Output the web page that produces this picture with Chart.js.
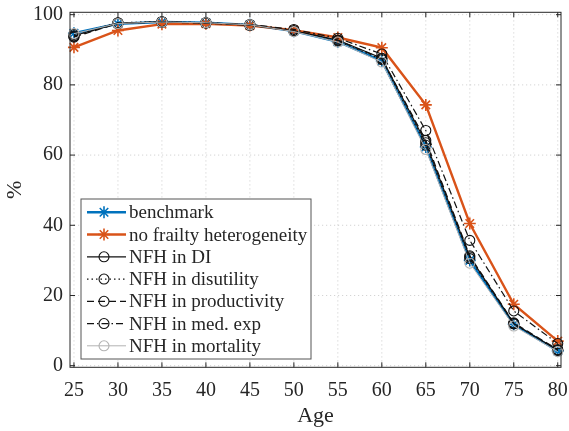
<!DOCTYPE html>
<html>
<head>
<meta charset="utf-8">
<script src="https://cdn.jsdelivr.net/npm/chart.js@4.4.1/dist/chart.umd.min.js"></script>
<style>
  html, body { margin: 0; padding: 0; background: #fff; }
  #wrap { width: 569px; height: 431px; position: relative; }
</style>
</head>
<body>
<div id="wrap"><canvas id="chart"></canvas></div>
<script>
// Share (%) by age — benchmark vs. no-frailty-heterogeneity (NFH) variants.
// Values.

const ages = [25, 30, 35, 40, 45, 50, 55, 60, 65, 70, 75, 80];
const xTicks = [25, 30, 35, 40, 45, 50, 55, 60, 65, 70, 75, 80];
const yTicks = [0, 20, 40, 60, 80, 100];

const benchmark    = [94.7, 97.4, 97.9, 97.7, 97.1, 95.3, 92.3, 86.8, 62.3, 30.0, 11.8, 4.2];
const noFrailty    = [90.7, 95.5, 97.3, 97.4, 96.9, 95.6, 93.5, 90.6, 74.3, 40.5, 17.5, 7.0];
const nfhDI        = [94.0, 97.6, 97.9, 97.7, 97.0, 95.4, 92.8, 87.6, 63.5, 31.0, 12.0, 4.4];
const nfhDisutil   = [94.4, 97.7, 98.0, 97.7, 97.1, 95.3, 92.5, 87.2, 62.8, 30.5, 11.9, 4.3];
const nfhProduct   = [93.6, 97.5, 97.9, 97.6, 97.0, 95.4, 92.7, 87.5, 64.2, 31.3, 12.2, 4.6];
const nfhMedExp    = [93.8, 97.6, 98.0, 97.7, 97.2, 95.8, 93.3, 88.8, 67.0, 35.7, 15.6, 6.3];
const nfhMortality = [94.6, 97.5, 97.9, 97.7, 97.1, 95.2, 92.2, 86.5, 61.6, 29.2, 11.3, 4.0];

const SERIF = "'Liberation Serif', 'Times New Roman', serif";
const AXIS = "#262626";

const pts = (ys) => ages.map((a, i) => ({ x: a, y: ys[i] }));

function series(label, ys, o) {
  return Object.assign({
    label, data: pts(ys), tension: 0, clip: false,
    pointBackgroundColor: "rgba(0,0,0,0)",
    pointStyle: "circle", pointRadius: 5, pointBorderWidth: 1.1,
    borderWidth: 1.2, borderDash: [],
  }, o);
}

const datasets = [
  series("benchmark", benchmark, { borderColor: "#0072BD", pointBorderColor: "#0072BD",
    borderWidth: 2.4, pointStyle: "star", pointRadius: 6, pointBorderWidth: 1.6 }),
  series("no frailty heterogeneity", noFrailty, { borderColor: "#D95319", pointBorderColor: "#D95319",
    borderWidth: 2.4, pointStyle: "star", pointRadius: 6, pointBorderWidth: 1.6 }),
  series("NFH in DI", nfhDI, { borderColor: "#111", pointBorderColor: "#111" }),
  series("NFH in disutility", nfhDisutil, { borderColor: "#111", pointBorderColor: "#111", borderDash: [1.5, 3] }),
  series("NFH in productivity", nfhProduct, { borderColor: "#111", pointBorderColor: "#111", borderDash: [7, 4] }),
  series("NFH in med. exp", nfhMedExp, { borderColor: "#111", pointBorderColor: "#111", borderDash: [7, 3, 1.5, 3] }),
  series("NFH in mortality", nfhMortality, { borderColor: "#b3b3b3", pointBorderColor: "#b3b3b3", borderWidth: 1 }),
];
// later series drawn on top, like the original
datasets.forEach((d, i) => (d.order = datasets.length - i));

function seg(ctx, x1, y1, x2, y2) {
  ctx.beginPath(); ctx.moveTo(x1, y1); ctx.lineTo(x2, y2); ctx.stroke();
}

// dotted grid under the data, box with inward ticks over it
const frame = {
  id: "frame",
  beforeDatasetsDraw(chart) {
    const { ctx, chartArea: a, scales: { x, y } } = chart;
    ctx.save();
    ctx.strokeStyle = "rgba(38,38,38,0.2)";
    ctx.lineWidth = 1;
    ctx.setLineDash([1.2, 2.8]);
    x.ticks.forEach((t) => { const p = x.getPixelForValue(t.value); seg(ctx, p, a.top, p, a.bottom); });
    y.ticks.forEach((t) => { const p = y.getPixelForValue(t.value); seg(ctx, a.left, p, a.right, p); });
    ctx.restore();
  },
  afterDatasetsDraw(chart) {
    const { ctx, chartArea: a, scales: { x, y } } = chart;
    const tl = 5;
    ctx.save();
    ctx.strokeStyle = AXIS;
    ctx.lineWidth = 1;
    ctx.strokeRect(a.left, a.top, a.right - a.left, a.bottom - a.top);
    x.ticks.forEach((t) => {
      const p = x.getPixelForValue(t.value);
      seg(ctx, p, a.bottom, p, a.bottom - tl);
      seg(ctx, p, a.top, p, a.top + tl);
    });
    y.ticks.forEach((t) => {
      const p = y.getPixelForValue(t.value);
      seg(ctx, a.left, p, a.left + tl, p);
      seg(ctx, a.right, p, a.right - tl, p);
    });
    ctx.restore();
  },
};

// legend box inside the axes, lower left
const boxLegend = {
  id: "boxLegend",
  afterDraw(chart) {
    const { ctx } = chart;
    const bx = 81, by = 199, bw = 230, bh = 160;
    ctx.save();
    ctx.fillStyle = "#fff";
    ctx.fillRect(bx, by, bw, bh);
    ctx.strokeStyle = "#555";
    ctx.lineWidth = 1;
    ctx.strokeRect(bx, by, bw, bh);
    ctx.font = `19px ${SERIF}`;
    ctx.textBaseline = "middle";
    chart.data.datasets.forEach((d, i) => {
      const cy = 212.3 + i * 22.25;
      ctx.strokeStyle = d.borderColor;
      ctx.lineWidth = d.borderWidth;
      ctx.setLineDash(d.borderDash || []);
      seg(ctx, 87, cy, 126, cy);
      ctx.setLineDash([]);
      ctx.fillStyle = "rgba(0,0,0,0)";
      ctx.strokeStyle = d.pointBorderColor;
      ctx.lineWidth = d.pointBorderWidth;
      Chart.helpers.drawPoint(ctx, { pointStyle: d.pointStyle, radius: d.pointRadius,
        borderWidth: d.pointBorderWidth, rotation: 0 }, 104, cy);
      ctx.fillStyle = AXIS;
      ctx.fillText(d.label, 129, cy + 1);
    });
    ctx.restore();
  },
};

const tickFont = { family: SERIF, size: 20 };

new Chart(document.getElementById("chart"), {
  type: "line",
  data: { datasets },
  plugins: [frame, boxLegend],
  options: {
    responsive: true, maintainAspectRatio: false, animation: false,
    layout: { padding: { left: 0, top: 12.3, right: 8, bottom: 0 } },
    plugins: { legend: { display: false }, tooltip: { enabled: false } },
    scales: {
      x: {
        type: "linear", min: 24.55, max: 80.37,
        afterBuildTicks: (s) => { s.ticks = xTicks.map((v) => ({ value: v })); },
        afterFit: (s) => { s.height = 63.7; s.paddingLeft = 0; s.paddingRight = 0; },
        grid: { display: false, drawTicks: false },
        border: { display: false },
        ticks: { color: AXIS, font: tickFont, padding: 11, maxRotation: 0, autoSkip: false },
        title: { display: true, text: "Age", color: AXIS, font: { family: SERIF, size: 22 },
          padding: { top: 0, bottom: 2 } },
      },
      y: {
        min: -0.46, max: 100.68,
        afterBuildTicks: (s) => { s.ticks = yTicks.map((v) => ({ value: v })); },
        afterFit: (s) => { s.width = 70; s.paddingTop = 0; s.paddingBottom = 0; },
        grid: { display: false, drawTicks: false },
        border: { display: false },
        ticks: { color: AXIS, font: tickFont, padding: 7 },
        title: { display: true, text: "%", color: AXIS, font: { family: SERIF, size: 22 },
          padding: { top: 2.5, bottom: 0 } },
      },
    },
  },
});
</script>
</body>
</html>
